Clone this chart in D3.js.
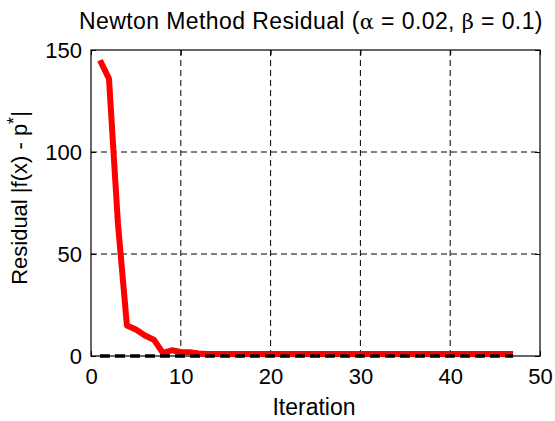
<!DOCTYPE html>
<html><head><meta charset="utf-8">
<script src="https://cdn.jsdelivr.net/npm/d3@7"></script>
<style>body{margin:0;background:#fff}svg{display:block}text{font-family:"Liberation Sans",Arial,sans-serif}</style>
</head><body>
<script>
const iterations = d3.range(1, 48);
const residual = [145, 136, 65, 15, 13, 10, 8, 1.5, 2.8, 2, 1.8, 1.2,
  1, 1, 1, 1, 1, 1, 1, 1, 1, 1, 1, 1, 1, 1, 1, 1, 1, 1, 1, 1, 1, 1, 1, 1,
  1, 1, 1, 1, 1, 1, 1, 1, 1, 1, 1];
const optimum = iterations.map(() => 0);
const xTicks = [0, 10, 20, 30, 40, 50];
const yTicks = [0, 50, 100, 150];

const W = 555, H = 421;
const m = {l: 91, r: 15, t: 50, b: 65};
const svg = d3.select("body").append("svg").attr("width", W).attr("height", H);
const x = d3.scaleLinear().domain([0, 50]).range([m.l, W - m.r]);
const y = d3.scaleLinear().domain([0, 150]).range([H - m.b, m.t]);

// grid
svg.append("g").selectAll("line").data(xTicks.slice(1, -1)).join("line")
  .attr("x1", d => x(d)).attr("x2", d => x(d)).attr("y1", y(0)).attr("y2", y(150))
  .attr("stroke", "#000").attr("stroke-width", 1).attr("stroke-dasharray", "6,4");
svg.append("g").selectAll("line").data(yTicks.slice(1, -1)).join("line")
  .attr("y1", d => y(d)).attr("y2", d => y(d)).attr("x1", x(0)).attr("x2", x(50))
  .attr("stroke", "#000").attr("stroke-width", 1).attr("stroke-dasharray", "6,4");

// axes
const xa = svg.append("g").attr("transform", `translate(0,${y(0)})`)
  .call(d3.axisBottom(x).tickValues(xTicks).tickSize(-5).tickPadding(12));
const ya = svg.append("g").attr("transform", `translate(${x(0)},0)`)
  .call(d3.axisLeft(y).tickValues(yTicks).tickSize(-5).tickPadding(9));
[xa, ya].forEach(a => {
  a.select(".domain").remove();
  a.selectAll("text").attr("font-size", 22).attr("fill", "#000")
    .attr("font-family", "Liberation Sans, Arial, sans-serif");
  a.selectAll("line").attr("stroke", "#000");
});
svg.append("g").attr("transform", `translate(0,${y(150)})`)
  .call(d3.axisTop(x).tickValues(xTicks).tickSize(-5).tickFormat(""))
  .call(g => g.select(".domain").remove());
svg.append("g").attr("transform", `translate(${x(50)},0)`)
  .call(d3.axisRight(y).tickValues(yTicks).tickSize(-5).tickFormat(""))
  .call(g => g.select(".domain").remove());
svg.append("rect").attr("x", x(0)).attr("y", y(150))
  .attr("width", x(50) - x(0)).attr("height", y(0) - y(150))
  .attr("fill", "none").attr("stroke", "#000").attr("stroke-width", 1.2);

// lines
const line = d3.line().x((d, i) => x(iterations[i])).y(d => y(d));
svg.append("path").datum(residual).attr("d", line).attr("fill", "none")
  .attr("stroke", "#ff0000").attr("stroke-width", 6).attr("stroke-linejoin", "round");
svg.append("path").datum(optimum).attr("d", line).attr("fill", "none")
  .attr("stroke", "#000").attr("stroke-width", 3.5).attr("stroke-dasharray", "10,5");

// title
const t = svg.append("text").attr("x", 311).attr("y", 29)
  .attr("text-anchor", "middle").attr("font-size", 23).attr("letter-spacing", 0.4).attr("fill", "#000");
t.append("tspan").text("Newton Method Residual (");
t.append("tspan").attr("font-family", "DejaVu Serif, serif").attr("font-size", 21).text("α");
t.append("tspan").text(" = 0.02, ");
t.append("tspan").attr("font-family", "DejaVu Serif, serif").attr("font-size", 21).text("β");
t.append("tspan").text(" = 0.1)");

svg.append("text").attr("x", 314).attr("y", 415)
  .attr("text-anchor", "middle").attr("font-size", 23).text("Iteration");
const yl = svg.append("text").attr("transform", `translate(27,198) rotate(-90)`)
  .attr("text-anchor", "middle").attr("font-size", 22);
yl.append("tspan").text("Residual |f(x) - p");
yl.append("tspan").attr("dy", -7).attr("font-size", 18).text("*");
yl.append("tspan").attr("dy", 7).text("|");
</script>
</body></html>
